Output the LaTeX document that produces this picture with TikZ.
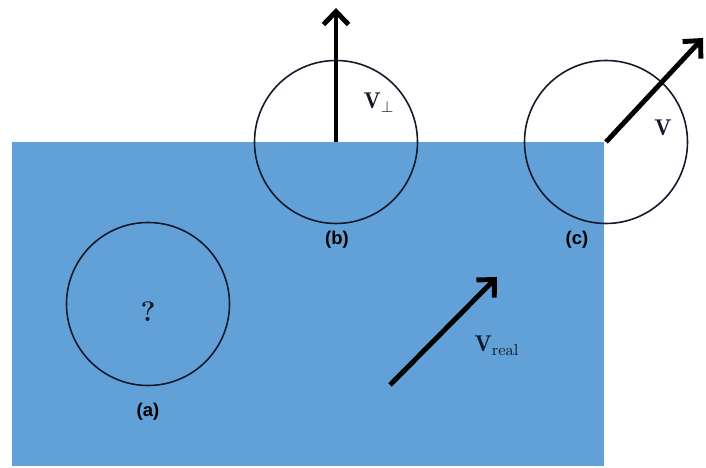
\documentclass[tikz,border=0pt]{standalone}
\usepackage{amsmath}
\usepackage{fontspec}
\newfontfamily\lblfont{Liberation Sans}
\usetikzlibrary{positioning,arrows.meta}
\definecolor{water}{RGB}{98,161,216}
\definecolor{rim}{RGB}{18,24,40}
\tikzset{
  ring/.style={circle,draw=rim,line width=0.9pt,minimum size=3.26cm,inner sep=0pt},
  vel/.style={line width=2.8pt,-{Straight Barb[length=2.6mm,width=5mm,line width=2.8pt]}},
  tag/.style={font=\lblfont\bfseries\fontsize{10.5}{12}\selectfont},
  vlab/.style={font=\fontsize{13}{15}\selectfont,text=rim}
}
\begin{document}
\begin{tikzpicture}
  \useasboundingbox (0,0) rectangle (14.12,9.36);
  \fill[water](0.24,0.04) rectangle (12.08,6.52);
  \node[ring] (ca) at (2.96,3.28) {};
  \node[ring] (cb) at (6.72,6.52) {};
  \node[ring] (cc) at (12.12,6.52) {};
  \coordinate (tb) at (6.72,9.2);
  \coordinate (tc) at (14.06,8.6);
  \coordinate (rs) at (7.8,1.66);
  \coordinate (rt) at (9.94,3.82);
  \draw[vel](cb.center)--(tb);
  \draw[vel](cc.center)--(tc);
  \draw[vel](rs)--(rt);
  \node[font=\bfseries\fontsize{16}{18}\selectfont,text=rim] (q) at (2.96,3.12) {?};
  \node[tag] (la) at (2.96,1.12) {(a)};
  \node[tag] (lb) at (6.74,4.56) {(b)};
  \node[tag] (lc) at (11.54,4.56) {(c)};
  \node[vlab] (vp) at (7.58,7.3) {$\mathbf{V}_{\perp}$};
  \node[vlab] (vc) at (13.26,6.8) {$\mathbf{V}$};
  \node[vlab] (vr) at (9.94,2.44) {$\mathbf{V}_{\mathrm{real}}$};
\end{tikzpicture}
\end{document}
